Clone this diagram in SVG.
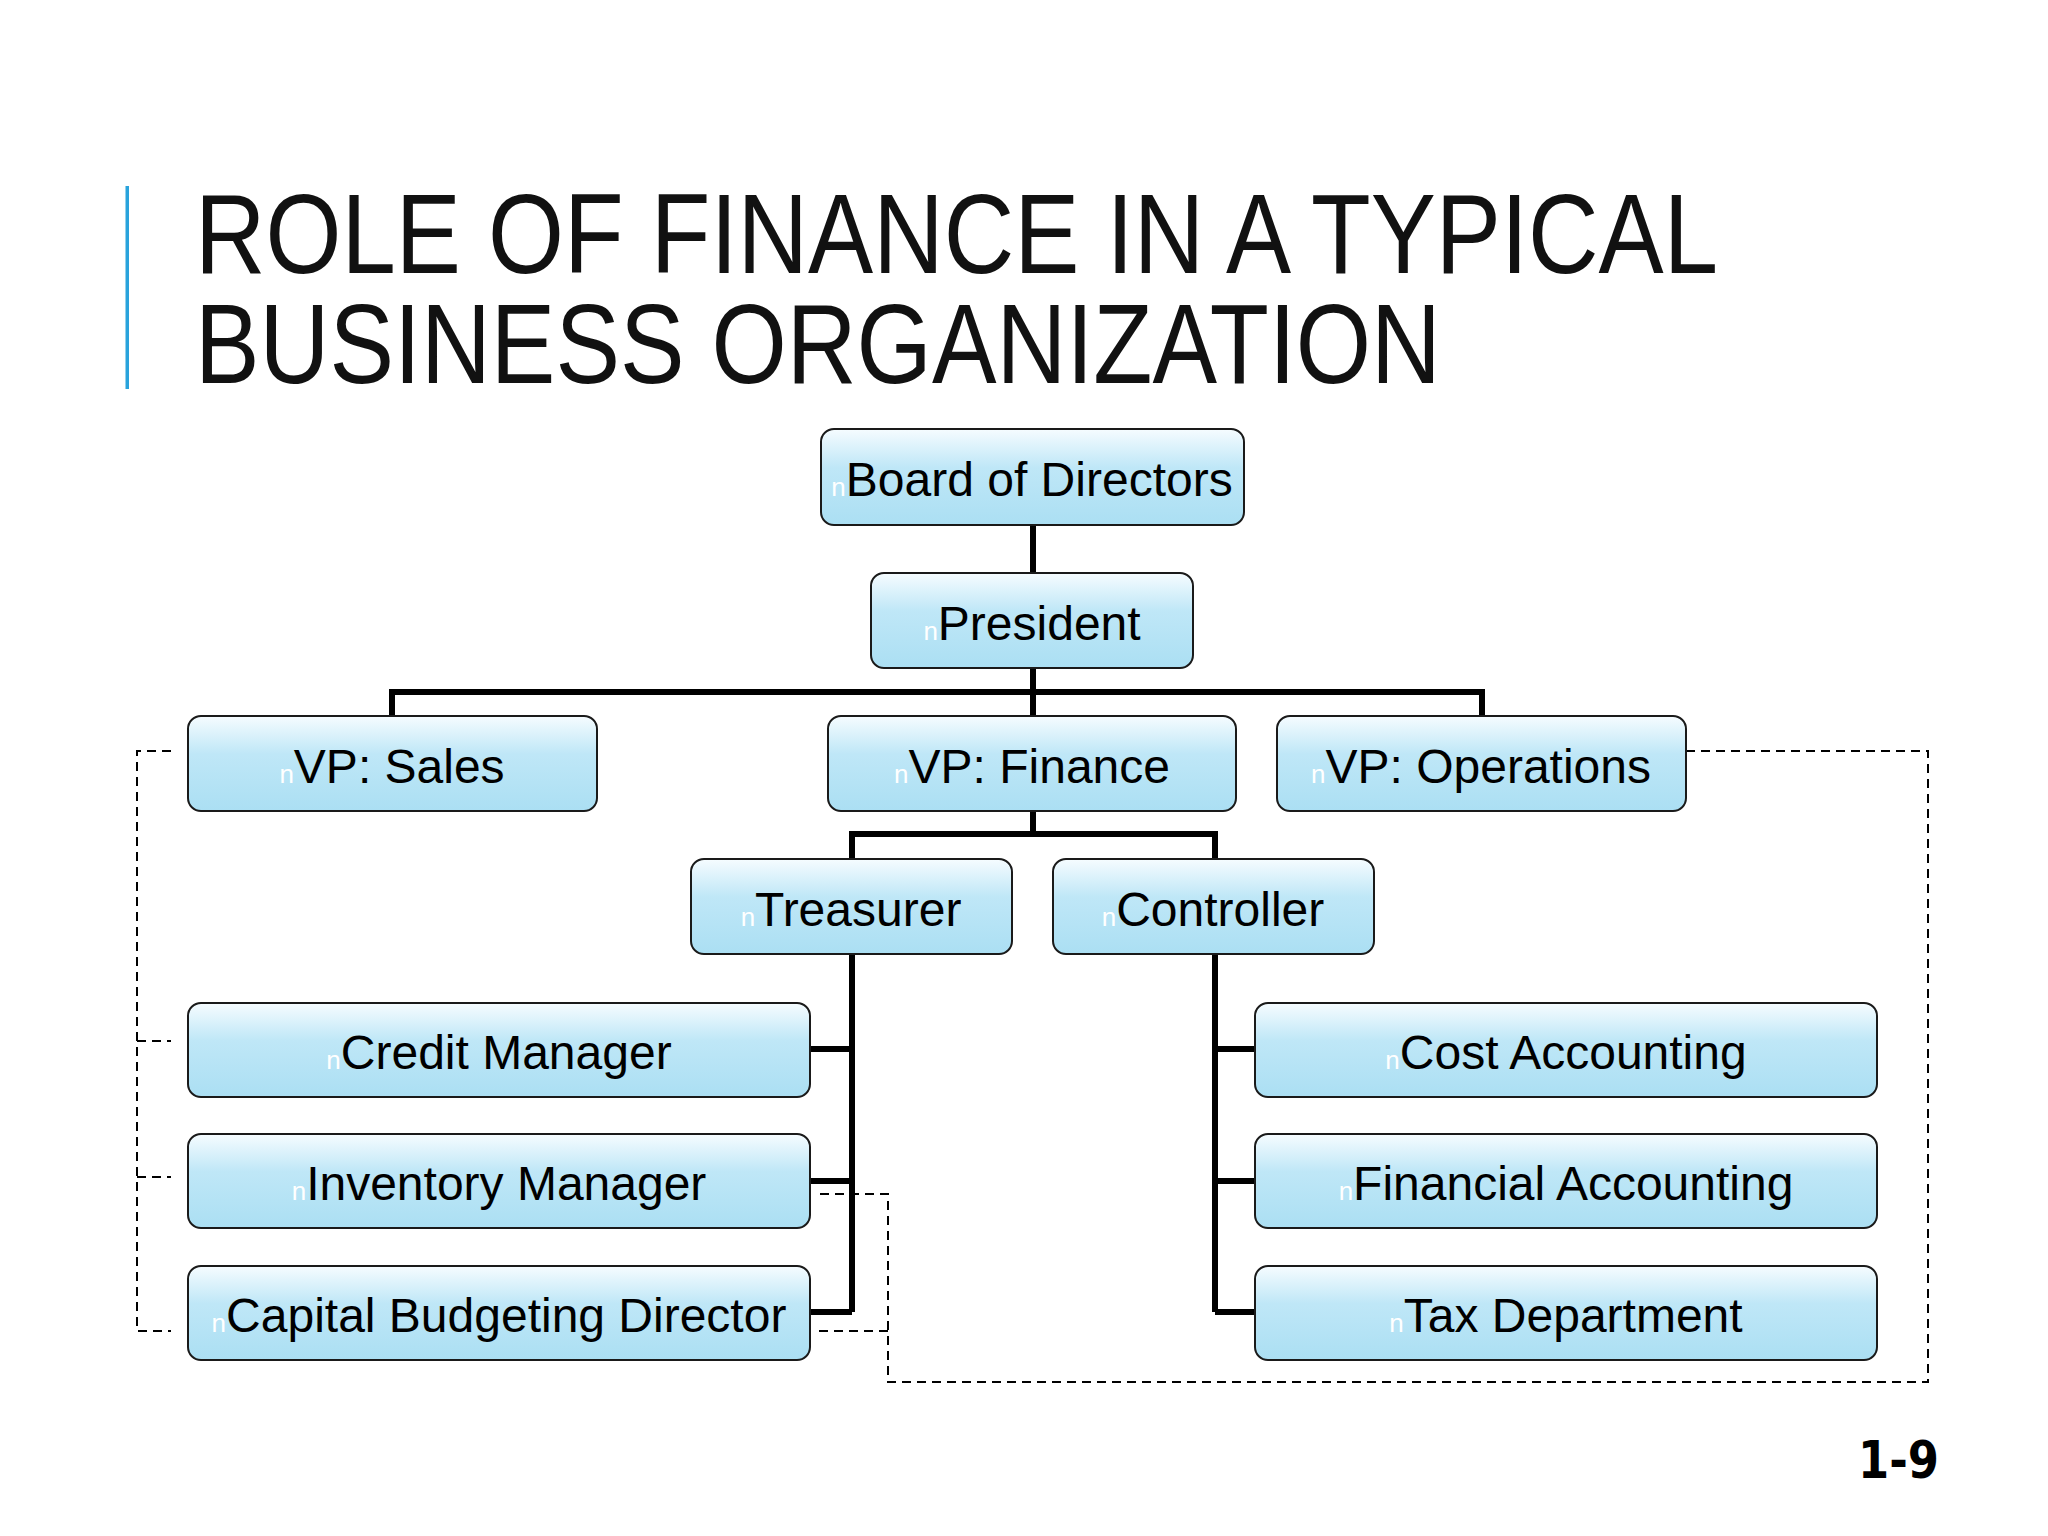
<svg xmlns="http://www.w3.org/2000/svg" width="2048" height="1536" viewBox="0 0 2048 1536">
<defs>
<linearGradient id="boxfill" x1="0" y1="0" x2="0" y2="1">
<stop offset="0" stop-color="#f6fcff"/>
<stop offset="0.4" stop-color="#bfe7f7"/>
<stop offset="1" stop-color="#abdff3"/>
</linearGradient>
<style>
.box{fill:url(#boxfill);stroke:#1a1a1a;stroke-width:2}
.lbl{font-family:"Liberation Sans",Arial,sans-serif;font-size:48px;fill:#000;text-anchor:middle}
.bul{font-size:26px;fill:#ffffff}
.solid{fill:none;stroke:#000;stroke-width:6}
.dash{fill:none;stroke:#000;stroke-width:2;stroke-dasharray:9 6}
.title{font-family:"Liberation Sans",Arial,sans-serif;font-size:113px;fill:#111}
</style>
</defs>
<rect width="2048" height="1536" fill="#ffffff"/>
<g id="title">
<rect x="125.500" y="186" width="3.500" height="203" fill="#29a3dc"/>
<text class="title"><tspan x="195" y="273" textLength="1523" lengthAdjust="spacingAndGlyphs">ROLE OF FINANCE IN A TYPICAL</tspan><tspan x="195" y="383" textLength="1246" lengthAdjust="spacingAndGlyphs">BUSINESS ORGANIZATION</tspan></text>
</g>
<g id="connectors">
<path class="solid" d="M1033 525 V573"/>
<path class="solid" d="M1033 667 V692 M392 716 V692 H1482 V716 M1033 692 V716"/>
<path class="solid" d="M1033 811 V834 M852 858 V834 H1215 V858"/>
<path class="solid" d="M852 955 V1312 M810 1049 H852 M810 1181 H852 M810 1312 H852"/>
<path class="solid" d="M1215 955 V1312 M1215 1049 H1255 M1215 1181 H1255 M1215 1312 H1255"/>
<path class="dash" d="M171 751 H137 V1331 H171 M137 1041 H171 M137 1177 H171"/>
<path class="dash" d="M1686 751 H1928 V1382 H888 V1194 H814 M888 1331 H814"/>
</g>
<g id="board">
<rect class="box" x="821" y="429" width="423" height="96" rx="13"/>
<text class="lbl" x="1032" y="496"><tspan class="bul">n</tspan>Board of Directors</text>
</g>
<g id="president">
<rect class="box" x="871" y="573" width="322" height="95" rx="13"/>
<text class="lbl" x="1032" y="640"><tspan class="bul">n</tspan>President</text>
</g>
<g id="vp-sales">
<rect class="box" x="188" y="716" width="409" height="95" rx="13"/>
<text class="lbl" x="392" y="783"><tspan class="bul">n</tspan>VP: Sales</text>
</g>
<g id="vp-finance">
<rect class="box" x="828" y="716" width="408" height="95" rx="13"/>
<text class="lbl" x="1032" y="783"><tspan class="bul">n</tspan>VP: Finance</text>
</g>
<g id="vp-operations">
<rect class="box" x="1277" y="716" width="409" height="95" rx="13"/>
<text class="lbl" x="1481" y="783"><tspan class="bul">n</tspan>VP: Operations</text>
</g>
<g id="treasurer">
<rect class="box" x="691" y="859" width="321" height="95" rx="13"/>
<text class="lbl" x="851" y="926"><tspan class="bul">n</tspan>Treasurer</text>
</g>
<g id="controller">
<rect class="box" x="1053" y="859" width="321" height="95" rx="13"/>
<text class="lbl" x="1213" y="926"><tspan class="bul">n</tspan>Controller</text>
</g>
<g id="credit-manager">
<rect class="box" x="188" y="1003" width="622" height="94" rx="13"/>
<text class="lbl" x="499" y="1069"><tspan class="bul">n</tspan>Credit Manager</text>
</g>
<g id="inventory-manager">
<rect class="box" x="188" y="1134" width="622" height="94" rx="13"/>
<text class="lbl" x="499" y="1200"><tspan class="bul">n</tspan>Inventory Manager</text>
</g>
<g id="capital-budgeting-director">
<rect class="box" x="188" y="1266" width="622" height="94" rx="13"/>
<text class="lbl" x="499" y="1332"><tspan class="bul">n</tspan>Capital Budgeting Director</text>
</g>
<g id="cost-accounting">
<rect class="box" x="1255" y="1003" width="622" height="94" rx="13"/>
<text class="lbl" x="1566" y="1069"><tspan class="bul">n</tspan>Cost Accounting</text>
</g>
<g id="financial-accounting">
<rect class="box" x="1255" y="1134" width="622" height="94" rx="13"/>
<text class="lbl" x="1566" y="1200"><tspan class="bul">n</tspan>Financial Accounting</text>
</g>
<g id="tax-department">
<rect class="box" x="1255" y="1266" width="622" height="94" rx="13"/>
<text class="lbl" x="1566" y="1332"><tspan class="bul">n</tspan>Tax Department</text>
</g>
<text x="1858" y="1478" font-family="DejaVu Sans,Verdana,sans-serif" font-weight="bold" font-size="51" textLength="81" lengthAdjust="spacingAndGlyphs" fill="#000">1-9</text>
</svg>
